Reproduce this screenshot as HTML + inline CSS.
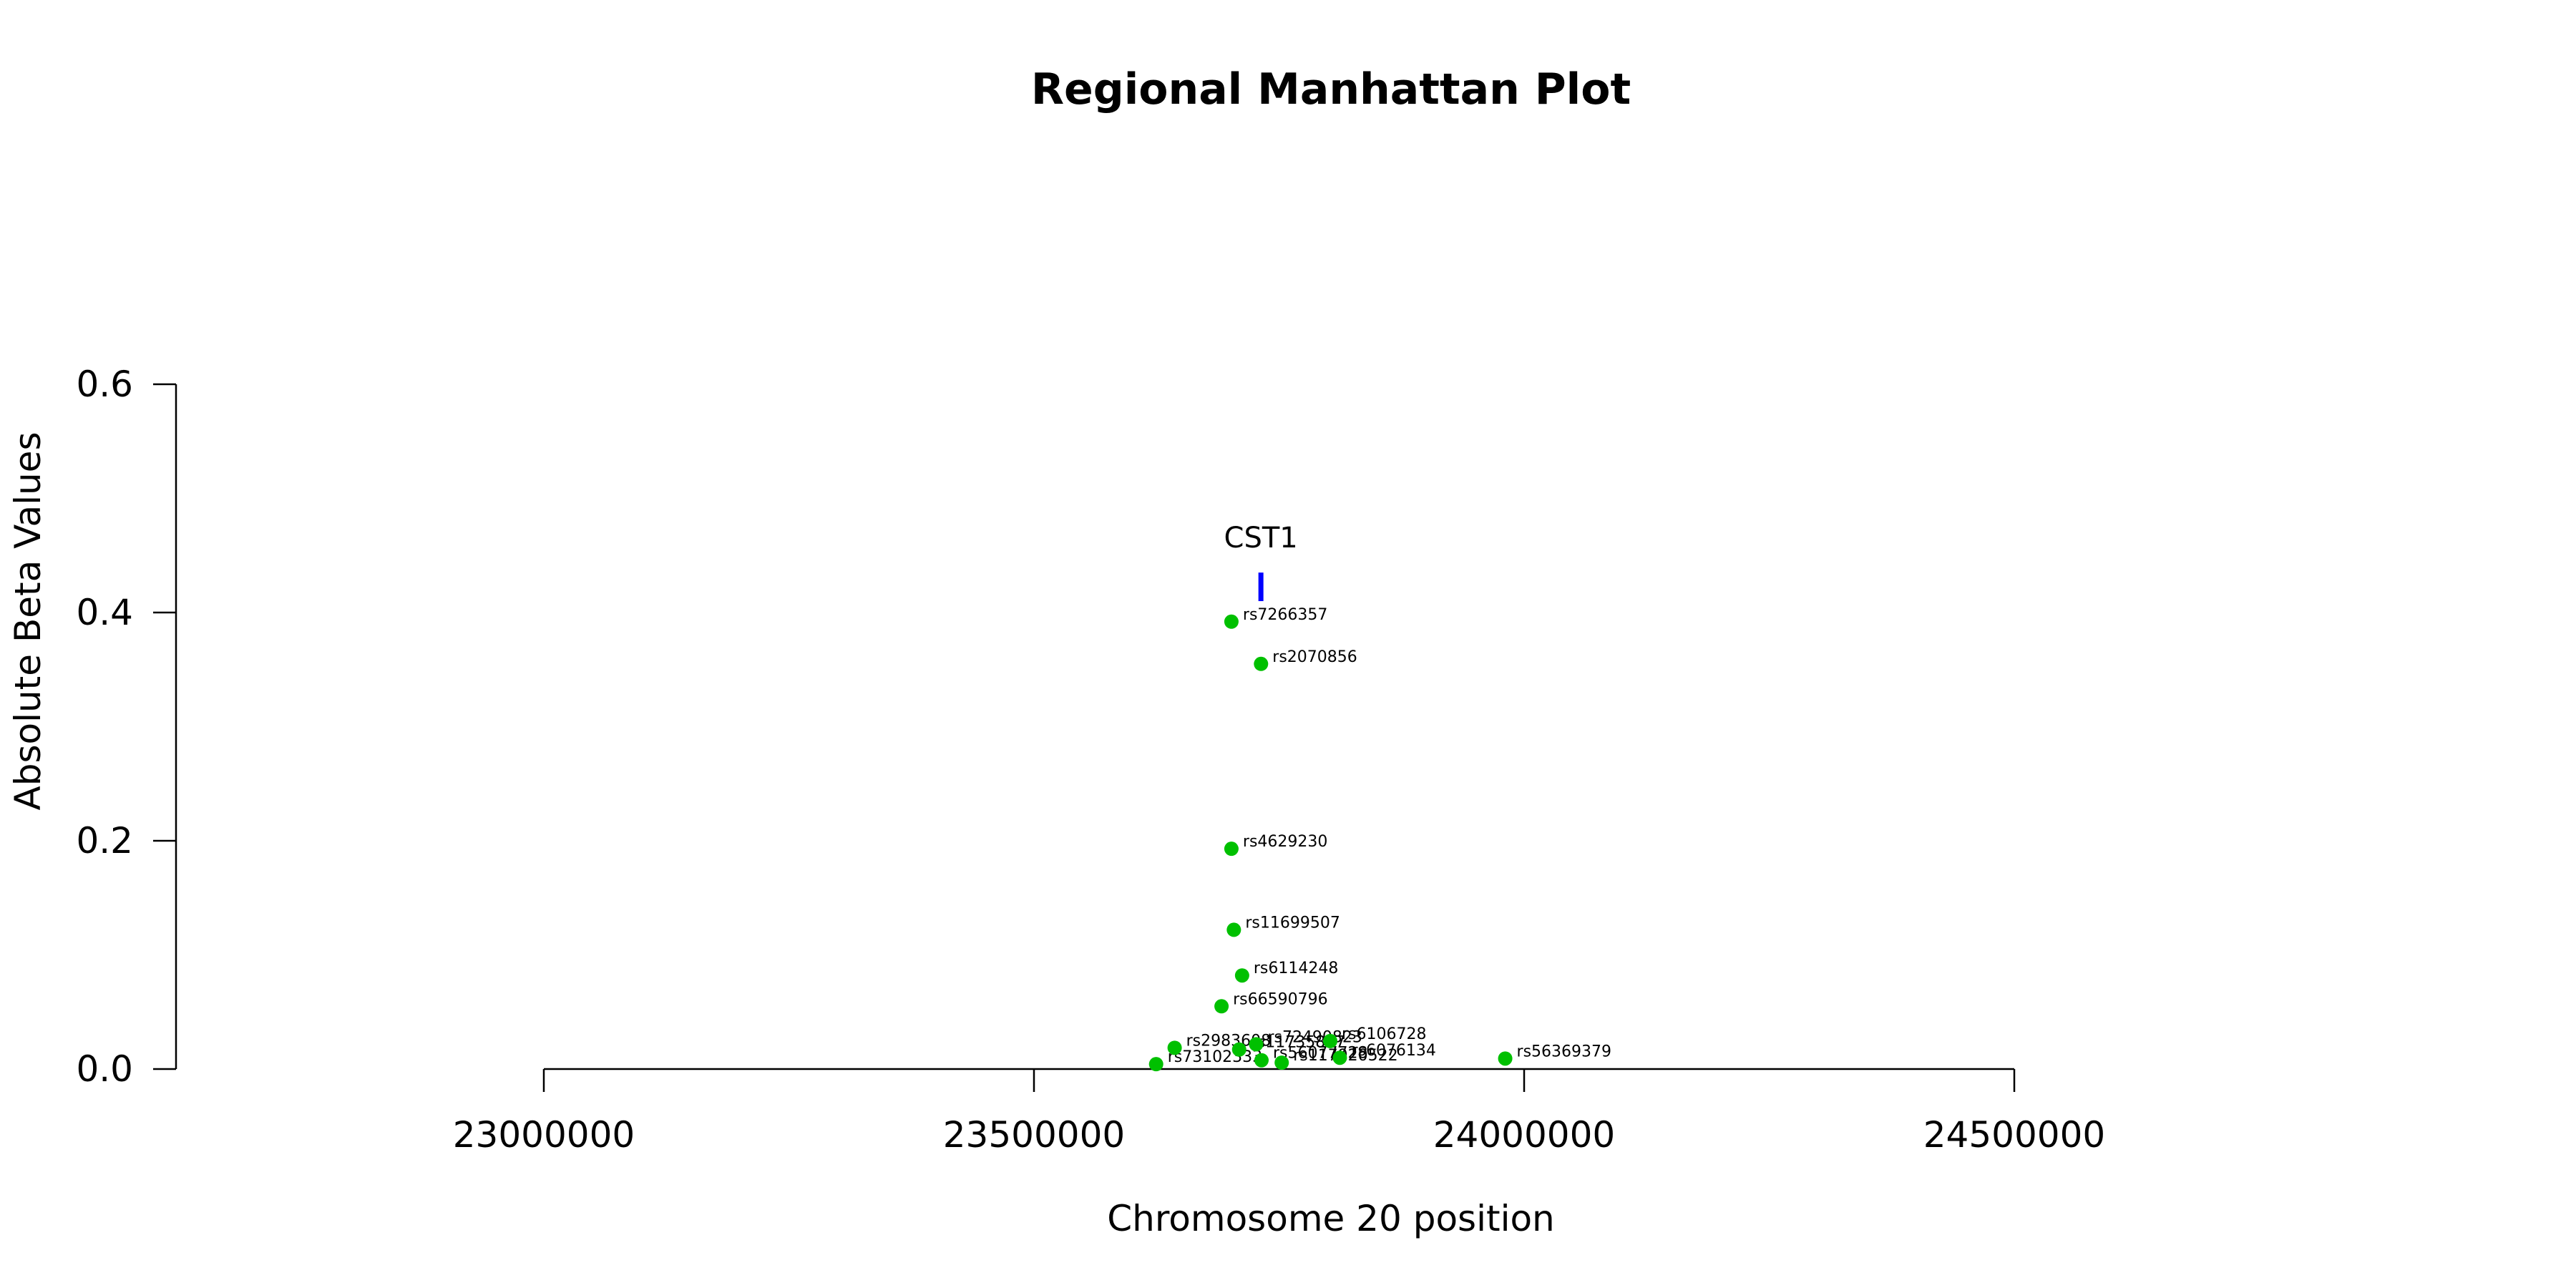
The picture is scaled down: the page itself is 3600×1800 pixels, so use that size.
<!DOCTYPE html>
<html><head><meta charset="utf-8"><style>
html,body{margin:0;padding:0;background:#fff;}
svg{display:block;font-family:"DejaVu Sans","Liberation Sans",sans-serif;}
</style></head><body>
<svg id="chart" width="3600" height="1800" viewBox="0 0 3600 1800" xmlns="http://www.w3.org/2000/svg">
<rect width="3600" height="1800" fill="#fff"/>
<text x="1860" y="145" text-anchor="middle" font-size="60" font-weight="bold">Regional Manhattan Plot</text>
<text x="1860" y="1720" text-anchor="middle" font-size="50">Chromosome 20 position</text>
<text transform="translate(56,868) rotate(-90)" text-anchor="middle" font-size="50">Absolute Beta Values</text>
<g id="axes"></g>
<g id="marks"></g>
</svg>
<script>
const snpNames = ["rs7266357","rs2070856","rs4629230","rs11699507","rs6114248","rs66590796","rs73102333","rs2983608","rs11735887","rs72490823","rs56077728","rs117920522","rs6106728","rs6076134","rs56369379"];
const snpPositions = [23701400,23731600,23701400,23703900,23712300,23691300,23624600,23643500,23709300,23726600,23732100,23752700,23802200,23812000,23980700];
const betaValues = [0.392,0.355,0.193,0.122,0.082,0.055,0.0043,0.0186,0.0171,0.0217,0.0077,0.0056,0.0245,0.0099,0.0092];
const xTicks = [23000000,23500000,24000000,24500000];
const yTicks = [0.0,0.2,0.4,0.6];
const geneNames = ["CST1"];
const genePositions = [23731500];
const geneBetaTop = [0.435];
const geneBetaBottom = [0.41];

const NS="http://www.w3.org/2000/svg";
const X0=760, X1=2815, XMIN=23000000, XMAX=24500000;
const Y0=1494, Y1=537, YMIN=0, YMAX=0.6;
const xs=v=>X0+(v-XMIN)/(XMAX-XMIN)*(X1-X0);
const ys=v=>Y0-(v-YMIN)/(YMAX-YMIN)*(Y0-Y1);
function mk(tag,attrs,parent){const e=document.createElementNS(NS,tag);for(const k in attrs)e.setAttribute(k,attrs[k]);parent.appendChild(e);return e;}
const axes=document.getElementById('axes'), marks=document.getElementById('marks');

let yl=mk('line',{x1:246,x2:246,y1:ys(yTicks[yTicks.length-1]),y2:ys(yTicks[0]),stroke:'#000','stroke-width':2.5},axes);


yTicks.forEach(t=>{
  const tk=mk('line',{x1:214,x2:246,y1:ys(t),y2:ys(t),stroke:'#000','stroke-width':2.5},axes);
  
  
  const lb=mk('text',{x:186,y:ys(t)+17,'text-anchor':'end','font-size':50},axes);
  lb.textContent=t.toFixed(1);
  
  
});
let xl=mk('line',{x1:xs(xTicks[0]),x2:xs(xTicks[xTicks.length-1]),y1:Y0,y2:Y0,stroke:'#000','stroke-width':2.5},axes);


xTicks.forEach(t=>{
  const tk=mk('line',{x1:xs(t),x2:xs(t),y1:Y0,y2:Y0+32,stroke:'#000','stroke-width':2.5},axes);
  
  
  const lb=mk('text',{x:xs(t),y:1603,'text-anchor':'middle','font-size':50},axes);
  lb.textContent=String(t);
  
  
});
geneNames.forEach((g,i)=>{
  const r=mk('rect',{x:xs(genePositions[i])-3.5,y:ys(geneBetaTop[i]),width:7,height:ys(geneBetaBottom[i])-ys(geneBetaTop[i]),fill:'#0000ff'},marks);
  
  
  const t=mk('text',{x:xs(genePositions[i]),y:ys(geneBetaTop[i])-35,'text-anchor':'middle','font-size':40},marks);
  t.textContent=g;
  
  
});
snpNames.forEach((n,i)=>{
  const cx=xs(snpPositions[i]), cy=ys(betaValues[i]);
  const c=mk('circle',{cx:cx,cy:cy,r:10,fill:'#00c000'},marks);
  
  
  const t=mk('text',{x:cx+16,y:cy-3,'font-size':22},marks);
  t.textContent=n;
  
  
});
</script>
</body></html>
